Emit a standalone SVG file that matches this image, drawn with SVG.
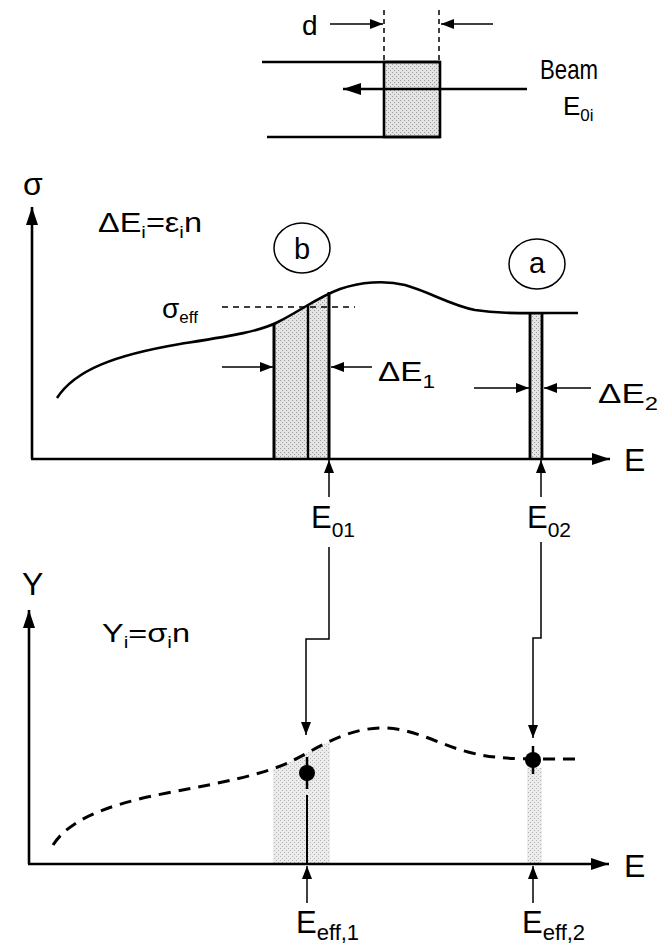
<svg xmlns="http://www.w3.org/2000/svg" width="669" height="947" viewBox="0 0 669 947">
<style>
  text { font-family: "Liberation Sans", Arial, sans-serif; fill: #000; }
  .ln { stroke: #000; fill: none; }
  .thick { stroke-width: 2.6; }
  .med { stroke-width: 2; }
  .thin { stroke-width: 1.5; }
  .dash { stroke-dasharray: 5 4; }
  .curve { stroke: #000; stroke-width: 2.6; fill: none; }
  .dcurve { stroke: #000; stroke-width: 3; fill: none; stroke-dasharray: 12 8; }
</style>
<defs>
  <marker id="ah" viewBox="0 0 13 10" refX="13" refY="5" markerWidth="13" markerHeight="10" markerUnits="userSpaceOnUse" orient="auto"><path d="M0,0 L13,5 L0,10 Z" fill="#000"/></marker>
  <marker id="ahB" viewBox="0 0 18 12" refX="18" refY="6" markerWidth="18" markerHeight="12" markerUnits="userSpaceOnUse" orient="auto"><path d="M0,0 L18,6 L0,12 Z" fill="#000"/></marker>
  <pattern id="stip" width="4" height="4" patternUnits="userSpaceOnUse">
    <rect width="4" height="4" fill="#e4e4e4"/>
    <rect x="0" y="0" width="1" height="1" fill="#9a9a9a"/>
    <rect x="2" y="2" width="1" height="1" fill="#9a9a9a"/>
  </pattern>
  <pattern id="stipL" width="4" height="4" patternUnits="userSpaceOnUse">
    <rect width="4" height="4" fill="#ececec"/>
    <rect x="0" y="0" width="1" height="1" fill="#b4b4b4"/>
    <rect x="2" y="2" width="1" height="1" fill="#b4b4b4"/>
  </pattern>
  <clipPath id="clipTop">
    <path d="M57,398 C75,370 115,355 180,344 C230,336 258,332 278,322 C300,311 318,297 340,289 C360,282 385,280 405,285 C430,292 450,305 475,310 C500,314 520,313 578,313 L578,459 L57,459 Z"/>
  </clipPath>
  <clipPath id="clipBot">
    <path d="M53,845 C68,822 100,806 167,793 C220,783 262,775 290,762 C318,748 345,729 380,728 C412,727 440,745 468,752 C495,759 510,759 580,759 L580,864 L53,864 Z"/>
  </clipPath>
</defs>

<g id="beam-target">
  <rect x="384" y="62" width="56" height="75" fill="url(#stip)" stroke="#000" stroke-width="2.6"/>
  <path class="ln thick" d="M262,62 H440 M267,137 H440"/>
  <path class="ln thin dash" d="M384,10 V62 M439,10 V62"/>
  <path class="ln thin" d="M330,24 H383" marker-end="url(#ah)"/>
  <path class="ln thin" d="M493,24 H441" marker-end="url(#ah)"/>
  <path class="ln thick" d="M527,89 H343" marker-end="url(#ahB)"/>
  <text x="302" y="35" font-size="28">d</text>
  <text x="540" y="79" font-size="28" textLength="58" lengthAdjust="spacingAndGlyphs">Beam</text>
  <text x="563" y="115" font-size="26">E<tspan font-size="17" dy="6">0i</tspan></text>
</g>

<g id="sigma-plot">
  <rect x="274" y="270" width="55" height="189" fill="url(#stip)" clip-path="url(#clipTop)"/>
  <rect x="530" y="313" width="12" height="146" fill="url(#stip)"/>
  <path class="curve" d="M57,398 C75,370 115,355 180,344 C230,336 258,332 278,322 C300,311 318,297 340,289 C360,282 385,280 405,285 C430,292 450,305 475,310 C500,314 520,313 578,313"/>
  <path class="ln thin" d="M222,307 H355" stroke-dasharray="6 5"/>
  <path class="ln" stroke-width="3" d="M274,324 V459 M329,292 V459"/>
  <path class="ln" stroke-width="2.4" d="M308,305 V459"/>
  <path class="ln" stroke-width="2.8" d="M530,313 V459 M542,313 V459"/>
  <path class="ln thick" d="M32,459 V207" marker-end="url(#ahB)"/>
  <path class="ln thick" d="M31,459 H610" marker-end="url(#ahB)"/>
  <path class="ln thin" d="M222,367 H273" marker-end="url(#ah)"/>
  <path class="ln thin" d="M372,367 H331" marker-end="url(#ah)"/>
  <path class="ln thin" d="M474,388 H529" marker-end="url(#ah)"/>
  <path class="ln thin" d="M591,388 H544" marker-end="url(#ah)"/>
  <path class="ln thin" d="M329,497 V460" marker-end="url(#ah)"/>
  <path class="ln thin" d="M541,497 V460" marker-end="url(#ah)"/>
  <text x="23" y="195" font-size="32">σ</text>
  <text x="98" y="232" font-size="27" textLength="104" lengthAdjust="spacingAndGlyphs">ΔE<tspan font-size="17" dy="6">i</tspan><tspan dy="-6">=ε</tspan><tspan font-size="17" dy="6">i</tspan><tspan dy="-6">n</tspan></text>
  <g id="label-b">
    <ellipse cx="302" cy="248" rx="28" ry="25" fill="none" stroke="#000" stroke-width="1.5"/>
    <text x="302" y="259" font-size="29" text-anchor="middle">b</text>
  </g>
  <g id="label-a">
    <ellipse cx="537" cy="264" rx="28" ry="25" fill="none" stroke="#000" stroke-width="1.5"/>
    <text x="537" y="273" font-size="29" text-anchor="middle">a</text>
  </g>
  <text x="162" y="318" font-size="28">σ<tspan font-size="17" dy="5">eff</tspan></text>
  <text x="378" y="381" font-size="28" textLength="57" lengthAdjust="spacingAndGlyphs">ΔE<tspan font-size="19" dy="7">1</tspan></text>
  <text x="598" y="403" font-size="28" textLength="60" lengthAdjust="spacingAndGlyphs">ΔE<tspan font-size="19" dy="7">2</tspan></text>
  <text x="624" y="471" font-size="32">E</text>
  <text x="311" y="528" font-size="31">E<tspan font-size="21" dy="9">01</tspan></text>
  <text x="527" y="528" font-size="31">E<tspan font-size="21" dy="9">02</tspan></text>
</g>

<g id="connectors">
  <path class="ln thin" d="M329,547 V639 H306 V735" marker-end="url(#ah)"/>
  <path class="ln thin" d="M541,542 V638 H533 V738" marker-end="url(#ah)"/>
</g>

<g id="yield-plot">
  <rect x="273" y="720" width="57" height="144" fill="url(#stipL)" clip-path="url(#clipBot)"/>
  <rect x="527" y="768" width="15" height="96" fill="url(#stipL)"/>
  <path class="dcurve" d="M53,845 C68,822 100,806 167,793 C220,783 262,775 290,762 C318,748 345,729 380,728 C412,727 440,745 468,752 C495,759 510,759 580,759"/>
  <path class="ln thick" d="M29,864 V610" marker-end="url(#ahB)"/>
  <path class="ln thick" d="M28,864 H609" marker-end="url(#ahB)"/>
  <g id="dot-b">
    <circle cx="307" cy="773" r="8" fill="#000"/>
    <path class="ln" stroke-width="2.5" d="M307,757 V789"/>
    <path class="ln med" d="M307,795 V864"/>
  </g>
  <g id="dot-a">
    <circle cx="533" cy="760" r="8" fill="#000"/>
    <path class="ln" stroke-width="2.5" d="M533,746 V774"/>
  </g>
  <path class="ln thin" d="M307,903 V866" marker-end="url(#ah)"/>
  <path class="ln thin" d="M533,903 V866" marker-end="url(#ah)"/>
  <text x="22" y="595" font-size="32">Y</text>
  <text x="102" y="642" font-size="25" textLength="88" lengthAdjust="spacingAndGlyphs">Y<tspan font-size="16" dy="6">i</tspan><tspan dy="-6">=σ</tspan><tspan font-size="16" dy="6">i</tspan><tspan dy="-6">n</tspan></text>
  <text x="624" y="877" font-size="32">E</text>
  <text x="296" y="933" font-size="31">E<tspan font-size="22" dy="7">eff,1</tspan></text>
  <text x="522" y="933" font-size="31">E<tspan font-size="22" dy="7">eff,2</tspan></text>
</g>
</svg>
